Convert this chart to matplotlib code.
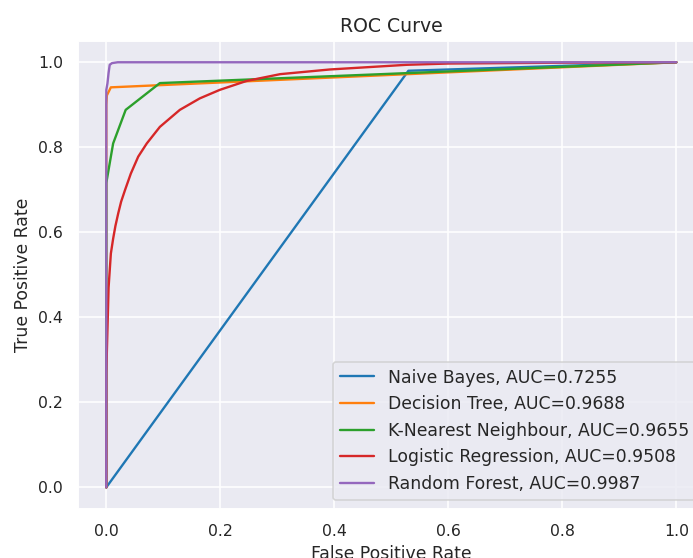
import matplotlib
matplotlib.use("Agg")
import matplotlib.pyplot as plt
import seaborn as sns

# ROC points
nb_fpr = [0.0, 0.53, 1.0]
nb_tpr = [0.0, 0.98, 1.0]

dt_fpr = [0.0, 0.0, 0.001, 0.008, 1.0]
dt_tpr = [0.0, 0.90, 0.922, 0.941, 1.0]

knn_fpr = [0.0, 0.0, 0.012, 0.034, 0.094, 1.0]
knn_tpr = [0.0, 0.716, 0.809, 0.888, 0.951, 1.0]

lr_fpr = [0.0, 0.0, 0.002, 0.004, 0.008, 0.012, 0.016, 0.021, 0.026, 0.033, 0.043,
          0.056, 0.071, 0.094, 0.129, 0.164, 0.199, 0.246, 0.305, 0.392, 0.527,
          0.60, 0.80, 1.0]
lr_tpr = [0.0, 0.27, 0.37, 0.47, 0.55, 0.585, 0.615, 0.645, 0.672, 0.70, 0.738,
          0.778, 0.809, 0.848, 0.888, 0.915, 0.935, 0.956, 0.972, 0.983, 0.994,
          0.997, 0.999, 1.0]

rf_fpr = [0.0, 0.0, 0.002, 0.004, 0.006, 0.010, 0.020, 1.0]
rf_tpr = [0.0, 0.935, 0.950, 0.975, 0.994, 0.998, 1.0, 1.0]

names = ["Naive Bayes", "Decision Tree", "K-Nearest Neighbour",
         "Logistic Regression", "Random Forest"]
aucs = [0.7255, 0.9688, 0.9655, 0.9508, 0.9987]
curves = [(nb_fpr, nb_tpr), (dt_fpr, dt_tpr), (knn_fpr, knn_tpr),
          (lr_fpr, lr_tpr), (rf_fpr, rf_tpr)]

sns.set_theme(palette="tab10")

dpi = 113
fig = plt.figure(figsize=(693 / dpi, 558 / dpi), dpi=dpi)
ax = fig.add_axes([77.8 / 693, 1 - 508.6 / 558, (704.8 - 77.8) / 693, (508.6 - 41) / 558])

for (fpr, tpr), name, auc in zip(curves, names, aucs):
    ax.plot(fpr, tpr, label=f"{name}, AUC={auc:.4f}")

ax.set_title("ROC Curve", fontsize=12)
ax.set_xlabel("False Positive Rate", fontsize=11)
ax.set_ylabel("True Positive Rate", fontsize=11)
ax.tick_params(labelsize=10)
ax.legend(loc="lower right", fontsize=11)

fig.savefig("out.png", dpi=dpi)
